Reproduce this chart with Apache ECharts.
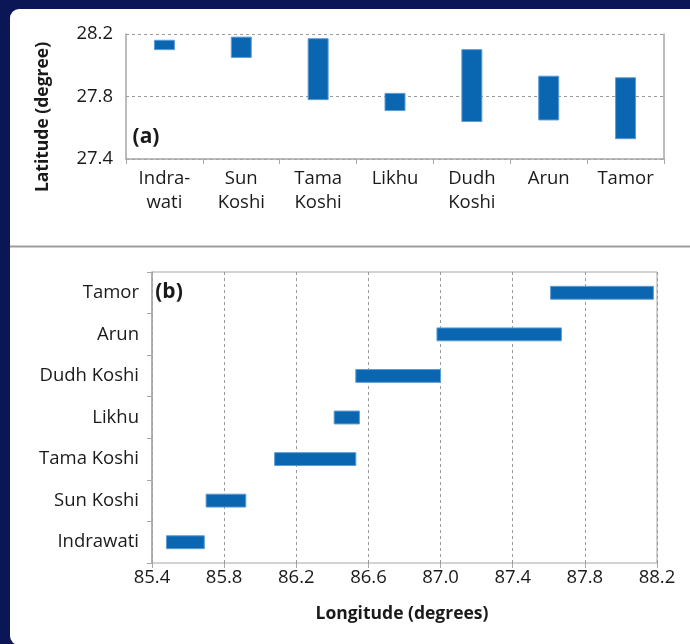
<!DOCTYPE html>
<html>
<head>
<meta charset="utf-8">
<script src="https://cdn.jsdelivr.net/npm/echarts@6/dist/echarts.min.js"></script>
<style>
  html, body { margin: 0; padding: 0; background: #0b1656; }
  #chart { width: 690px; height: 644px; }
</style>
</head>
<body>
<div id="chart"></div>
<script>
// River basins, west to east
const rivers = ['Indrawati', 'Sun Koshi', 'Tama Koshi', 'Likhu', 'Dudh Koshi', 'Arun', 'Tamor'];
const riverLabelsTop = ['Indra-\nwati', 'Sun\nKoshi', 'Tama\nKoshi', 'Likhu', 'Dudh\nKoshi', 'Arun', 'Tamor'];

// Latitude extent of each basin (degrees)
const latMin = [28.10, 28.05, 27.78, 27.71, 27.64, 27.65, 27.53];
const latMax = [28.16, 28.18, 28.17, 27.82, 28.10, 27.93, 27.92];

// Longitude extent of each basin (degrees)
const lonMin = [85.48, 85.70, 86.08, 86.41, 86.53, 86.98, 87.61];
const lonMax = [85.69, 85.92, 86.53, 86.55, 87.00, 87.67, 88.18];

// Axis ranges
const latAxis = { min: 27.4, max: 28.2, step: 0.4 };
const lonAxis = { min: 85.4, max: 88.2, step: 0.4 };

const BAR = '#0b66b1';
const BAR_EDGE = '#5d9cd6';
const AXIS = '#a6a6a6';
const GRIDLINE = '#9a9a9a';
const TEXT = '#1a1a1a';
const FONT = '"Open Sans"';

const chart = echarts.init(document.getElementById('chart'), null, { renderer: 'canvas' });

const latData = rivers.map((r, i) => [i, latMin[i], latMax[i]]);
const lonData = rivers.map((r, i) => [lonMin[i], lonMax[i], i]);

function renderLat(params, api) {
  const i = api.value(0);
  const top = api.coord([i, api.value(2)]);
  const bottom = api.coord([i, api.value(1)]);
  const w = api.size([1, 0])[0] * 0.26;
  return {
    type: 'rect',
    shape: { x: top[0] - w / 2, y: top[1], width: w, height: bottom[1] - top[1] },
    style: { fill: BAR, stroke: BAR_EDGE, lineWidth: 1 }
  };
}

function renderLon(params, api) {
  const i = api.value(2);
  const left = api.coord([api.value(0), i]);
  const right = api.coord([api.value(1), i]);
  const h = api.size([0, 1])[1] * 0.31;
  return {
    type: 'rect',
    shape: { x: left[0], y: left[1] - h / 2, width: right[0] - left[0], height: h },
    style: { fill: BAR, stroke: BAR_EDGE, lineWidth: 1 }
  };
}

const tickLabel = { color: TEXT, fontFamily: FONT, fontSize: 18.5 };

chart.setOption({
  backgroundColor: '#0b1656',
  animation: false,
  graphic: [
    {
      type: 'rect', z: -10, silent: true,
      shape: { x: 10, y: 9, width: 700, height: 636, r: [9, 0, 0, 9] },
      style: { fill: '#ffffff' }
    },
    {
      type: 'line', z: -5, silent: true,
      shape: { x1: 10, y1: 246.5, x2: 690, y2: 246.5 },
      style: { stroke: '#9d9d9d', lineWidth: 2 }
    },
    {
      type: 'text', silent: true,
      x: 43, y: 117, rotation: Math.PI / 2,
      style: {
        text: 'Latitude (degree)', fill: TEXT, fontFamily: FONT,
        fontWeight: 'bold', fontSize: 17.5, align: 'center', verticalAlign: 'middle'
      }
    },
    {
      type: 'text', silent: true, x: 146, y: 137,
      style: {
        text: '(a)', fill: TEXT, fontFamily: FONT, fontWeight: 'bold',
        fontSize: 21, align: 'center', verticalAlign: 'middle'
      }
    },
    {
      type: 'text', silent: true, x: 169, y: 292,
      style: {
        text: '(b)', fill: TEXT, fontFamily: FONT, fontWeight: 'bold',
        fontSize: 21, align: 'center', verticalAlign: 'middle'
      }
    },
    {
      type: 'text', silent: true, x: 402, y: 614,
      style: {
        text: 'Longitude (degrees)', fill: TEXT, fontFamily: FONT, fontWeight: 'bold',
        fontSize: 17.5, align: 'center', verticalAlign: 'middle'
      }
    }
  ],
  grid: [
    { left: 126, top: 34, width: 538, height: 125 },
    { left: 152, top: 272, width: 505, height: 291, show: true, borderColor: AXIS, borderWidth: 1, backgroundColor: 'transparent' }
  ],
  xAxis: [
    {
      gridIndex: 0, type: 'category', data: riverLabelsTop,
      axisLine: { lineStyle: { color: AXIS, width: 1.5 } },
      axisTick: { show: true, alignWithLabel: false, length: 5, lineStyle: { color: AXIS } },
      axisLabel: Object.assign({ margin: 8, lineHeight: 24, interval: 0 }, tickLabel),
      splitLine: { show: false }
    },
    {
      gridIndex: 1, type: 'value', min: lonAxis.min, max: lonAxis.max, interval: lonAxis.step,
      axisLine: { lineStyle: { color: AXIS, width: 1.5 } },
      axisTick: { show: true, length: 5, lineStyle: { color: AXIS } },
      axisLabel: Object.assign({ margin: 5, formatter: v => v.toFixed(1) }, tickLabel),
      splitLine: { show: true, lineStyle: { color: GRIDLINE, type: [3, 3], width: 1 } }
    }
  ],
  yAxis: [
    {
      gridIndex: 0, type: 'value', min: latAxis.min, max: latAxis.max, interval: latAxis.step,
      axisLine: { show: true, lineStyle: { color: AXIS, width: 1.5 } },
      axisTick: { show: false },
      axisLabel: Object.assign({ margin: 13, formatter: v => v.toFixed(1) }, tickLabel),
      splitLine: { show: true, lineStyle: { color: GRIDLINE, type: [3, 3], width: 1 } }
    },
    {
      gridIndex: 0, type: 'value', position: 'right', min: latAxis.min, max: latAxis.max, interval: latAxis.step,
      axisLine: { show: true, lineStyle: { color: AXIS, width: 1.5 } },
      axisTick: { show: false }, axisLabel: { show: false }, splitLine: { show: false }
    },
    {
      gridIndex: 1, type: 'category', data: rivers,
      axisLine: { lineStyle: { color: AXIS, width: 1.5 } },
      axisTick: { show: true, alignWithLabel: false, length: 5, lineStyle: { color: AXIS } },
      axisLabel: Object.assign({ margin: 13, interval: 0 }, tickLabel),
      splitLine: { show: false }
    }
  ],
  series: [
    {
      type: 'custom', xAxisIndex: 0, yAxisIndex: 0,
      renderItem: renderLat, data: latData,
      encode: { x: 0, y: [1, 2] }, clip: true
    },
    {
      type: 'custom', xAxisIndex: 1, yAxisIndex: 2,
      renderItem: renderLon, data: lonData,
      encode: { x: [0, 1], y: 2 }, clip: true
    }
  ]
});
</script>
</body>
</html>
